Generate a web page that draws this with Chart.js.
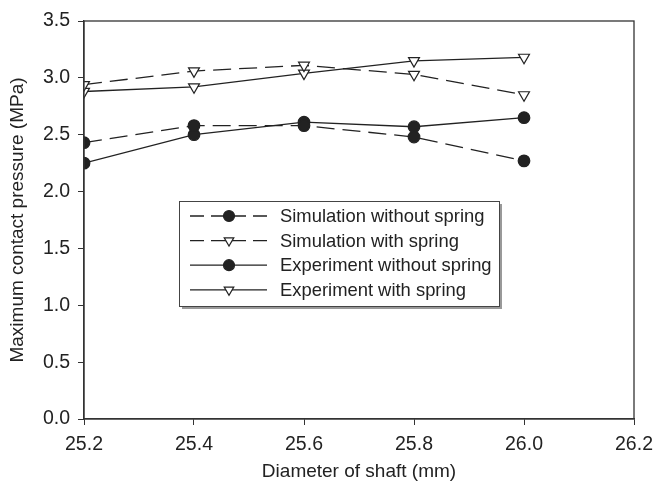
<!DOCTYPE html>
<html>
<head>
    <meta charset="utf-8">
    <script src="https://cdn.jsdelivr.net/npm/chart.js"></script>
    <style>
        html, body { margin: 0; padding: 0; background: #fff; }
        #wrap { width: 654px; height: 486px; }
    </style>
</head>
<body>
<div id="wrap"><canvas id="pressureChart"></canvas></div>
<script>
// Values
const diameters = [25.2, 25.4, 25.6, 25.8, 26.0];
const simWithout = [2.43, 2.58, 2.58, 2.48, 2.27];
const simWith = [2.94, 3.06, 3.11, 3.03, 2.85];
const expWithout = [2.25, 2.50, 2.61, 2.57, 2.65];
const expWith = [2.88, 2.92, 3.04, 3.15, 3.18];
const seriesNames = [
    'Simulation without spring',
    'Simulation with spring',
    'Experiment without spring',
    'Experiment with spring'
];
const xTitle = 'Diameter of shaft (mm)';
const yTitle = 'Maximum contact pressure (MPa)';

const FONT = "'Liberation Sans', Arial, Helvetica, sans-serif";
const INK = '#222';

function makeSeries(label, values, dashed, filledDot) {
    return {
        label: label,
        data: diameters.map((d, i) => ({ x: d, y: values[i] })),
        borderColor: INK,
        borderWidth: 1.3,
        borderDash: dashed ? [18, 8] : [],
        pointStyle: filledDot ? 'circle' : 'triangle',
        pointRotation: filledDot ? 0 : 180,
        pointRadius: filledDot ? 5.8 : 6.3,
        pointBackgroundColor: filledDot ? INK : '#fff',
        pointBorderColor: INK,
        pointBorderWidth: 1.2,
        fill: false,
        tension: 0
    };
}

// Box round the plot area
const frame = {
    id: 'frame',
    afterDraw(chart) {
        const { ctx, chartArea: a } = chart;
        ctx.save();
        ctx.strokeStyle = '#333';
        ctx.lineWidth = 1.3;
        ctx.strokeRect(a.left, a.top, a.right - a.left, a.bottom - a.top);
        ctx.restore();
    }
};

// Boxed legend inside the plot, like the original figure
const boxLegend = {
    id: 'boxLegend',
    afterDraw(chart) {
        const { ctx, chartArea: a } = chart;
        const left = a.left + 95, top = a.top + 180, w = 320, h = 105;
        ctx.save();
        // shadow
        ctx.fillStyle = '#999';
        ctx.fillRect(left + 3, top + 3, w, h);
        ctx.fillStyle = '#fff';
        ctx.fillRect(left, top, w, h);
        ctx.strokeStyle = '#444';
        ctx.lineWidth = 1;
        ctx.strokeRect(left + 0.5, top + 0.5, w, h);

        chart.data.datasets.forEach((ds, i) => {
            const y = top + 15 + i * 24.6;
            const x0 = left + 11, x1 = left + 88, xm = left + 50;
            ctx.strokeStyle = ds.borderColor;
            ctx.lineWidth = ds.borderWidth;
            ctx.setLineDash([]);
            ctx.beginPath();
            if (ds.borderDash.length) {
                ctx.moveTo(x0, y); ctx.lineTo(x0 + 14, y);
                ctx.moveTo(x0 + 21, y); ctx.lineTo(x1 - 21, y);
                ctx.moveTo(x1 - 14, y); ctx.lineTo(x1, y);
            } else {
                ctx.moveTo(x0, y); ctx.lineTo(x1, y);
            }
            ctx.stroke();

            ctx.fillStyle = ds.pointBackgroundColor;
            ctx.strokeStyle = ds.pointBorderColor;
            ctx.lineWidth = ds.pointBorderWidth;
            ctx.beginPath();
            if (ds.pointStyle === 'circle') {
                ctx.arc(xm, y, 5.5, 0, Math.PI * 2);
            } else {
                const r = 5.5;
                ctx.moveTo(xm - r * 0.87, y - r * 0.5);
                ctx.lineTo(xm + r * 0.87, y - r * 0.5);
                ctx.lineTo(xm, y + r);
                ctx.closePath();
            }
            ctx.fill();
            ctx.stroke();

            ctx.fillStyle = INK;
            ctx.font = '18.4px ' + FONT;
            ctx.textBaseline = 'middle';
            ctx.textAlign = 'left';
            ctx.fillText(ds.label, left + 101, y + 1);
        });
        ctx.restore();
    }
};

const ctx = document.getElementById('pressureChart').getContext('2d');

const pressureChart = new Chart(ctx, {
    type: 'line',
    data: {
        datasets: [
            makeSeries(seriesNames[0], simWithout, true, true),
            makeSeries(seriesNames[1], simWith, true, false),
            makeSeries(seriesNames[2], expWithout, false, true),
            makeSeries(seriesNames[3], expWith, false, false)
        ]
    },
    options: {
        responsive: true,
        maintainAspectRatio: false,
        animation: false,
        layout: { padding: { left: 0, right: 20, top: 21, bottom: 0 } },
        plugins: {
            legend: { display: false },
            tooltip: { enabled: false }
        },
        scales: {
            x: {
                type: 'linear',
                min: 25.2,
                max: 26.2,
                afterFit: (scale) => {
                    scale.height = 67;
                    scale.paddingRight = 0;
                    scale.paddingLeft = 0;
                },
                ticks: {
                    stepSize: 0.2,
                    color: INK,
                    padding: 8,
                    maxRotation: 0,
                    font: { family: FONT, size: 19.5 },
                    callback: (v) => Number(v).toFixed(1)
                },
                grid: {
                    display: true,
                    drawOnChartArea: false,
                    drawTicks: true,
                    tickLength: 6,
                    color: '#333'
                },
                border: { display: true, color: '#333', width: 1.3 },
                title: {
                    display: true,
                    text: xTitle,
                    color: INK,
                    font: { family: FONT, size: 19 },
                    padding: { top: 0, bottom: 3 }
                }
            },
            y: {
                type: 'linear',
                min: 0,
                max: 3.5,
                afterFit: (scale) => {
                    scale.width = 84;
                    scale.paddingTop = 0;
                    scale.paddingBottom = 0;
                },
                ticks: {
                    stepSize: 0.5,
                    color: INK,
                    padding: 8,
                    font: { family: FONT, size: 19.5 },
                    callback: (v) => Number(v).toFixed(1)
                },
                grid: {
                    display: true,
                    drawOnChartArea: false,
                    drawTicks: true,
                    tickLength: 6,
                    color: '#333'
                },
                border: { display: true, color: '#333', width: 1.3 },
                title: {
                    display: true,
                    text: yTitle,
                    color: INK,
                    font: { family: FONT, size: 19 },
                    padding: { top: 6, bottom: 0 }
                }
            }
        }
    },
    plugins: [frame, boxLegend]
});
</script>
</body>
</html>
